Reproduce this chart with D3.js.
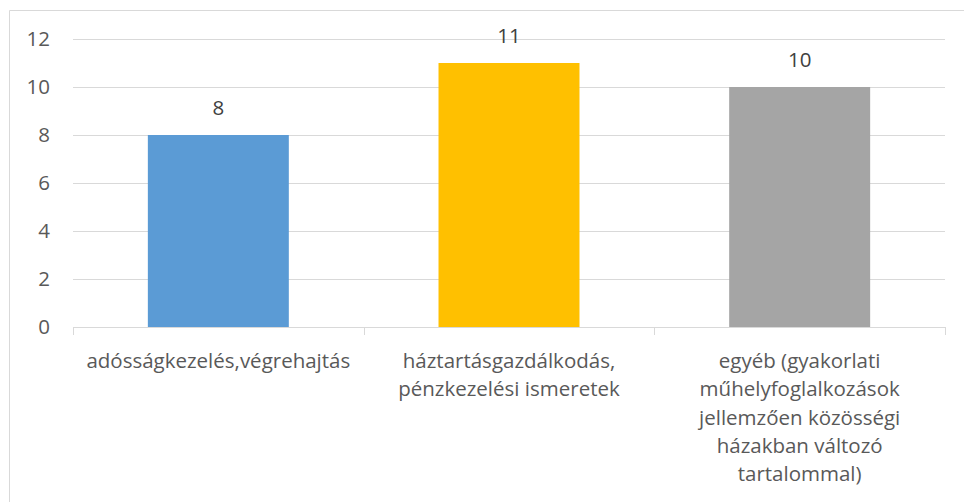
<!DOCTYPE html>
<html>
<head>
    <meta charset="utf-8">
    <script src="https://cdn.jsdelivr.net/npm/d3@7"></script>
    <style>
        body { margin: 0; background: #fff; }
        text { font-family: "Open Sans", sans-serif; fill: #595959; }
    </style>
</head>
<body>
<svg width="964" height="502" id="mainsvg"></svg>
<script>
    // chart data
    const categories = ['adósságkezelés,végrehajtás', 'háztartásgazdálkodás, pénzkezelési ismeretek', 'egyéb (gyakorlati műhelyfoglalkozások jellemzően közösségi házakban változó tartalommal)'];
    const categoryLines = [
        ['adósságkezelés,végrehajtás'],
        ['háztartásgazdálkodás,', 'pénzkezelési ismeretek'],
        ['egyéb (gyakorlati', 'műhelyfoglalkozások', 'jellemzően közösségi', 'házakban változó', 'tartalommal)']
    ];
    const values = [8, 11, 10];
    const colors = ['#5B9BD5', '#FFC000', '#A5A5A5'];
    const yTicks = [0, 2, 4, 6, 8, 10, 12];

    const svg = d3.select('svg');
    const plotLeft = 73, plotRight = 945, plotTop = 39, plotBottom = 327;
    const fontSize = '20.5px';

    // chart frame (runs past the right and bottom edges)
    svg.append('path')
        .attr('d', 'M9.5,502 V10.5 H964')
        .attr('fill', 'none').attr('stroke', '#d9d9d9');

    const x = d3.scaleBand().domain(categories).range([plotLeft, plotRight]).paddingInner(0.515).paddingOuter(0.2575);
    const y = d3.scaleLinear().domain([0, 12]).range([plotBottom, plotTop]);

    // gridlines
    svg.selectAll('.grid').data(yTicks.filter(d => d > 0)).enter().append('line')
        .attr('x1', plotLeft).attr('x2', plotRight)
        .attr('y1', d => Math.round(y(d)) + 0.5).attr('y2', d => Math.round(y(d)) + 0.5)
        .attr('stroke', '#d9d9d9').attr('stroke-width', 1);

    // y tick labels
    svg.selectAll('.ylab').data(yTicks).enter().append('text')
        .attr('x', plotLeft - 23).attr('y', d => y(d))
        .attr('dy', '0.35em')
        .attr('text-anchor', 'end')
        .style('font-size', fontSize)
        .text(d => d);

    // bars
    svg.selectAll('.bar').data(values).enter().append('rect')
        .attr('x', (d, i) => x(categories[i]))
        .attr('y', d => y(d))
        .attr('width', x.bandwidth())
        .attr('height', d => plotBottom - y(d))
        .attr('fill', (d, i) => colors[i]);

    // value labels
    svg.selectAll('.vlab').data(values).enter().append('text')
        .attr('x', (d, i) => x(categories[i]) + x.bandwidth() / 2)
        .attr('y', d => y(d) - 27)
        .attr('dy', '0.35em')
        .attr('text-anchor', 'middle')
        .style('font-size', fontSize)
        .style('fill', '#404040')
        .text(d => d);

    // x axis line and ticks at category boundaries
    svg.append('line')
        .attr('x1', plotLeft).attr('x2', plotRight)
        .attr('y1', plotBottom + 0.5).attr('y2', plotBottom + 0.5)
        .attr('stroke', '#d9d9d9');
    const step = (plotRight - plotLeft) / categories.length;
    svg.selectAll('.xtick').data(d3.range(categories.length + 1)).enter().append('line')
        .attr('x1', i => Math.round(plotLeft + i * step) + 0.5).attr('x2', i => Math.round(plotLeft + i * step) + 0.5)
        .attr('y1', plotBottom).attr('y2', plotBottom + 8)
        .attr('stroke', '#d9d9d9');

    // category labels
    categoryLines.forEach((lines, i) => {
        const cx = x(categories[i]) + x.bandwidth() / 2;
        const t = svg.append('text')
            .attr('text-anchor', 'middle')
            .style('font-size', fontSize);
        lines.forEach((ln, j) => {
            t.append('tspan').attr('x', cx).attr('y', plotBottom + 34 + j * 28.2).attr('dy', '0.35em').text(ln);
        });
    });
</script>
</body>
</html>
